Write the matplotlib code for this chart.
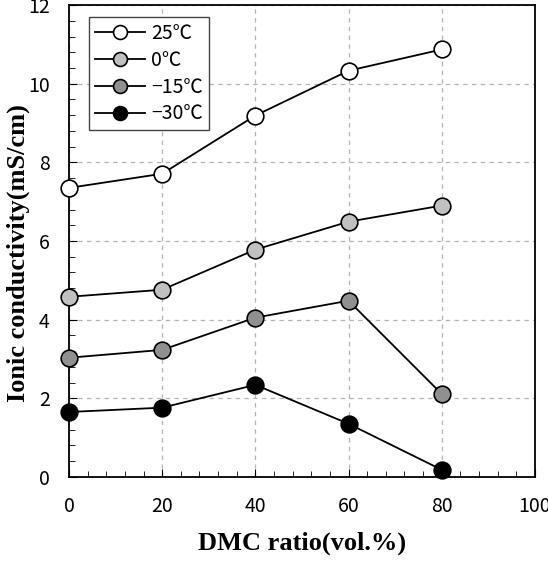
import matplotlib.pyplot as plt
from matplotlib.ticker import MultipleLocator

dmc_ratio = [0, 20, 40, 60, 80]
labels = ['25℃', '0℃', '−15℃', '−30℃']
cond_25 = [7.35, 7.71, 9.19, 10.33, 10.87]
cond_0 = [4.58, 4.76, 5.78, 6.49, 6.90]
cond_m15 = [3.03, 3.23, 4.05, 4.48, 2.11]
cond_m30 = [1.65, 1.76, 2.34, 1.35, 0.18]
colors = ['white', '#c0c0c0', '#909090', 'black']

plt.rcParams['font.family'] = ['Noto Sans CJK JP', 'DejaVu Sans']

fig = plt.figure(figsize=(5.48, 5.63), dpi=100)
ax = fig.add_axes([0.126, 0.153, 0.85, 0.838])

for vals, lab, c in zip([cond_25, cond_0, cond_m15, cond_m30], labels, colors):
    ax.plot(dmc_ratio, vals, '-o', color='black', lw=1.3, mfc=c, mec='black',
            mew=1.2, ms=12, label=lab, clip_on=False, zorder=3)

ax.set_xlim(0, 100)
ax.set_ylim(0, 12)
ax.xaxis.set_major_locator(MultipleLocator(20))
ax.xaxis.set_minor_locator(MultipleLocator(4))
ax.yaxis.set_major_locator(MultipleLocator(2))
ax.yaxis.set_minor_locator(MultipleLocator(0.4))
ax.tick_params(which='both', direction='in', labelsize=14)
ax.tick_params(which='major', length=6)
ax.tick_params(axis='x', which='major', pad=14)
ax.tick_params(axis='y', which='major', pad=14)
ax.tick_params(which='minor', length=4)
ax.grid(True, which='major', ls=(0, (3.5, 3.5)), color='#b4b4b4', lw=0.9)
for s in ax.spines.values():
    s.set_linewidth(1.3)

ax.set_xlabel('DMC ratio(vol.%)', family='Liberation Serif', fontweight='bold',
              fontsize=19, labelpad=10)
ax.set_ylabel('Ionic conductivity(mS/cm)', family='Liberation Serif',
              fontweight='bold', fontsize=19, labelpad=0)
ax.yaxis.set_label_coords(-0.083, 0.475)

leg = ax.legend(loc='upper left', bbox_to_anchor=(0.022, 0.995), fontsize=14,
                fancybox=False, edgecolor='#444444', framealpha=1,
                handlelength=2.6, handletextpad=0.3, borderpad=0.3,
                labelspacing=0.3)
leg.get_frame().set_linewidth(1.0)
for h in leg.legend_handles:
    h.set_markersize(10)

fig.savefig('out.png', dpi=100)
